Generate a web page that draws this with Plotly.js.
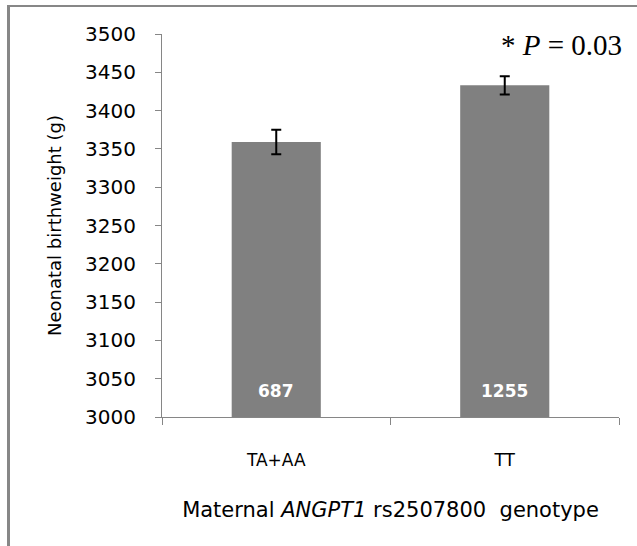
<!DOCTYPE html>
<html>
<head>
<meta charset="utf-8">
<script src="https://cdn.plot.ly/plotly-3.0.1.min.js"></script>
<style>
  html, body { margin: 0; padding: 0; background: #fff; }
  #wrap { position: relative; width: 637px; height: 546px; }
  #chart { width: 637px; height: 546px; }
  #frame { position: absolute; left: 7px; top: 5px; right: 0; bottom: 0;
           border-top: 2px solid #878787; border-left: 3px solid #878787;
           pointer-events: none; }
</style>
</head>
<body>
<div id="wrap">
  <div id="chart"></div>
  <div id="frame"></div>
</div>
<script>
const genotypes = ["TA+AA", "TT"];
const meanWeight = [3359, 3433];
const seWeight = [16, 12];
const counts = [687, 1255];
const yTicks = [3000, 3050, 3100, 3150, 3200, 3250, 3300, 3350, 3400, 3450, 3500];

const font = "DejaVu Sans, sans-serif";

const trace = {
  type: "bar",
  x: genotypes,
  y: meanWeight,
  width: 0.39,
  marker: { color: "#808080" },
  error_y: { type: "data", array: seWeight, visible: true, color: "#000", thickness: 2, width: 5 },
  hoverinfo: "none"
};

const annotations = genotypes.map((g, i) => ({
  x: g, y: yTicks[0], xref: "x", yref: "y",
  text: "<b>" + counts[i] + "</b>",
  showarrow: false, yanchor: "bottom", yshift: 14,
  font: { family: font, size: 17, color: "#fff" }
}));
annotations.push({
  xref: "paper", yref: "paper", x: 1.01, y: 0.972,
  xanchor: "right", yanchor: "middle",
  text: "* <i>P</i> = 0.03", showarrow: false,
  font: { family: "Liberation Serif, serif", size: 29, color: "#000" }
});

const layout = {
  width: 637, height: 546,
  margin: { l: 162, r: 18, t: 34, b: 129 },
  paper_bgcolor: "#fff", plot_bgcolor: "#fff",
  showlegend: false,
  font: { family: font, color: "#000" },
  xaxis: {
    type: "category", range: [-0.5, 1.5],
    showline: true, linecolor: "#868686", linewidth: 1,
    ticks: "outside", tickson: "boundaries", ticklen: 7, tickcolor: "#868686",
    tickfont: { family: font, size: 17, color: "#000" },
    ticklabelstandoff: 28,
    showgrid: false, zeroline: false,
    title: { text: "Maternal <i>ANGPT1</i> rs2507800  genotype", font: { family: font, size: 21, color: "#000" }, standoff: 32 }
  },
  yaxis: {
    range: [3000, 3500], tickvals: yTicks,
    showline: true, linecolor: "#868686", linewidth: 1,
    ticks: "outside", ticklen: 6, tickcolor: "#868686",
    tickfont: { family: font, size: 20, color: "#000" },
    ticklabelstandoff: 15,
    showgrid: false, zeroline: false,
    title: { text: "Neonatal birthweight (g)", font: { family: font, size: 18, color: "#000" }, standoff: 18 }
  },
  annotations: annotations
};

Plotly.newPlot("chart", [trace], layout, { displayModeBar: false, staticPlot: true });
</script>
</body>
</html>
